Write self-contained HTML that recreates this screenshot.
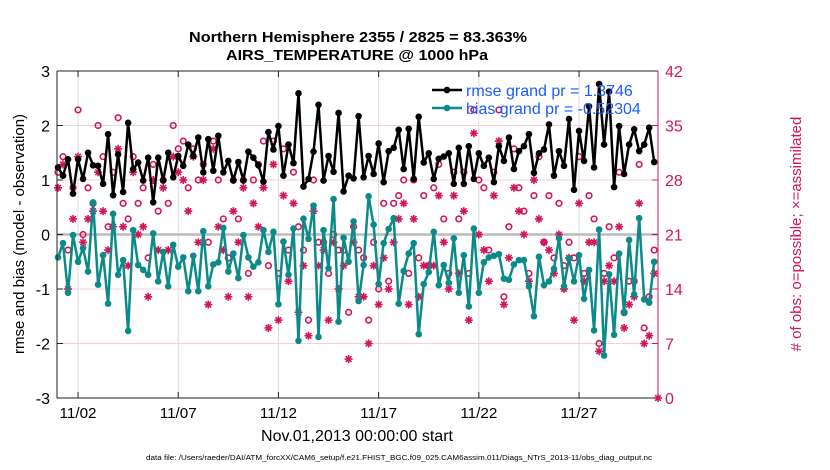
<!DOCTYPE html>
<html><head><meta charset="utf-8"><style>
html,body{margin:0;padding:0;background:#fff;}
svg{display:block;font-family:"Liberation Sans",sans-serif;}
</style></head><body>
<svg id="chart" width="830" height="470" viewBox="0 0 830 470" xmlns="http://www.w3.org/2000/svg">
<rect x="0" y="0" width="830" height="470" fill="#fff"/>
<text x="358" y="42" text-anchor="middle" font-size="15" font-weight="bold" textLength="338" lengthAdjust="spacingAndGlyphs">Northern Hemisphere 2355 / 2825 = 83.363%</text>
<text x="357" y="60" text-anchor="middle" font-size="15" font-weight="bold" textLength="262" lengthAdjust="spacingAndGlyphs">AIRS_TEMPERATURE @ 1000 hPa</text>
<g id="grid"></g>
<g id="marks"></g>
<g id="axes"></g>
<text transform="translate(24,234) rotate(-90)" text-anchor="middle" font-size="15">rmse and bias (model - observation)</text>
<text transform="translate(801,234) rotate(-90)" text-anchor="middle" font-size="15" fill="#d4145a"># of obs: o=possible; ×=assimilated</text>
<text x="357" y="441" text-anchor="middle" font-size="16" textLength="192" lengthAdjust="spacingAndGlyphs">Nov.01,2013 00:00:00 start</text>
<text x="146" y="460" font-size="7" textLength="506" lengthAdjust="spacingAndGlyphs">data file: /Users/raeder/DAI/ATM_forcXX/CAM6_setup/f.e21.FHIST_BGC.f09_025.CAM6assim.011/Diags_NTrS_2013-11/obs_diag_output.nc</text>
<g id="legend"></g>
</svg>
<script>
const xTickLabels = ["11/02","11/07","11/12","11/17","11/22","11/27"];
const xTickDays = [1,6,11,16,21,26];
const leftTicks = [-3,-2,-1,0,1,2,3];
const rightTicks = [0,7,14,21,28,35,42];
const stepDays = 0.25;
const rmse = [1.23,1.08,1.38,0.75,1.38,1.02,1.5,1.27,1.26,0.93,1.84,0.72,1.47,0.78,2.05,1.2,1.32,0.99,1.41,0.59,1.41,0.99,1.5,1.05,1.44,1.26,1.65,1.44,1.78,1.14,1.75,
1.17,1.81,1.14,1.35,0.99,1.33,0.99,1.52,1.41,1.27,0.97,1.88,1.56,1.99,1.08,1.65,1.31,2.59,0.88,1.02,1.52,2.38,0.99,1.44,1.15,2.23,0.79,1.08,1.03,2.17,
1.05,1.44,1.11,1.67,0.96,1.53,1.59,1.92,1.2,1.94,1.02,2.16,1.32,1.49,1.02,1.39,1.43,1.49,0.93,1.59,0.93,1.62,1.02,1.49,1.26,1.41,0.96,1.62,1.35,1.78,
1.2,1.53,1.62,1.84,1.13,1.49,1.56,2.02,1.08,1.53,1.26,2.12,0.82,1.9,1.35,2.35,1.23,2.76,1.65,2.62,0.87,1.99,1.11,1.65,1.93,1.53,1.65,1.96,1.33];
const bias = [-0.42,-0.16,-1.07,-0.01,-0.5,-0.25,-0.68,0.59,-0.92,-0.38,-1.27,0.38,-0.74,-0.47,-1.77,0.08,-0.56,-0.65,-0.74,0.02,-0.86,-0.32,-0.95,-0.19,-0.59,-0.42,-1.04,-0.39,-1.04,0.06,-0.95,
-0.55,-0.51,0.12,-0.68,-0.35,-0.8,-0.01,-0.42,-0.59,-0.51,0.08,-0.32,0.05,-1.28,-0.13,-0.74,0.11,-1.95,0.29,-0.08,0.53,-1.88,0.08,-0.62,0.65,-1.6,-0.06,-0.5,0.24,-1.22,
-0.56,0.7,0.18,-0.91,-0.16,0.1,0.3,-1.27,-0.67,-0.35,-0.16,-1.83,-0.91,-0.69,0.05,-0.93,-0.56,-0.89,-0.07,-1.07,-0.38,-1.32,0.11,-1.07,-0.51,-0.42,-0.39,-0.36,-0.81,-0.83,
-0.55,-0.47,-0.47,-0.95,-1.5,-0.41,-0.93,-0.86,-0.63,-0.07,-0.95,-0.44,-0.86,-0.38,-1.18,-0.65,-1.76,0.09,-2.22,-0.73,-1.84,-0.35,-1.44,-0.1,-1.1,0.3,-1.19,-1.25,-0.5];
const obsPossible = [29,31,19,27,37,21,27,25,35,31,22,29,36,25,23,31,25,27,18,30,24,28,25,35,32,33,27,32,28,30,20,
33,28,23,18,28,23,28,16,28,30,33,17,33,16,32,19,29,22,19,10,28,20,20,16,21,19,19,11,22,19,
18,10,20,14,25,15,25,26,28,16,28,18,26,17,27,30,23,16,29,23,29,16,37,28,27,19,29,37,13,22,
32,27,24,16,26,31,20,26,18,25,17,20,18,31,16,26,23,7,16,22,18,29,11,15,15,30,9,13,19];
const obsAssim = [27,30,14,23,31,20,23,24,29,24,19,22,32,22,17,29,21,22,13,28,19,27,19,31,29,28,24,31,20,28,12,
32,22,19,13,24,20,27,13,25,22,27,9,30,10,26,15,25,11,17,8,24,17,19,10,20,14,17,5,20,13,
13,7,17,12,18,14,20,23,25,12,23,13,17,17,17,26,20,14,26,16,24,10,34,21,19,15,26,33,12,18,
27,24,21,15,28,23,20,19,16,21,14,18,10,25,15,20,20,6,15,17,15,22,9,12,13,25,7,8,16];

const L=57, R=658, T=71, B=398;
const PINK="#d4145a", TEAL="#0b8a8a";
const NS="http://www.w3.org/2000/svg";
function xS(day){return 58 + day*20.04;}
function yL(v){return T + (3 - v)*(B-T)/6;}
function yR(c){return B - c*(B-T)/42;}
function mk(tag, attrs, parent){const e=document.createElementNS(NS,tag);for(const k in attrs)e.setAttribute(k,attrs[k]);parent.appendChild(e);return e;}
const grid=document.getElementById('grid'), marks=document.getElementById('marks'), axes=document.getElementById('axes'), legend=document.getElementById('legend');

xTickDays.forEach((d,i)=>{
  const x=xS(d);
  const g=mk('line',{x1:x,x2:x,y1:T,y2:B,stroke:'#dcdcdc','stroke-width':1},grid);
  
  
  const t1=mk('line',{x1:x,x2:x,y1:B,y2:B-6,stroke:'#222','stroke-width':1},axes);
  
  
  const t2=mk('line',{x1:x,x2:x,y1:T,y2:T+6,stroke:'#222','stroke-width':1},axes);
  
  
  const lb=mk('text',{x:x,y:418,'text-anchor':'middle','font-size':15,textLength:37,lengthAdjust:'spacingAndGlyphs'},axes);
  lb.textContent=xTickLabels[i];
  
  
});
leftTicks.forEach(v=>{
  const y=yL(v);
  if(v!==0 && v!==3 && v!==-3){
    const g=mk('line',{x1:L,x2:R,y1:y,y2:y,stroke:'#f2d0dc','stroke-width':1},grid);
    
    
  }
  const t=mk('line',{x1:L,x2:L+6,y1:y,y2:y,stroke:'#222'},axes);
  
  
  const lb=mk('text',{x:50,y:y+6,'text-anchor':'end','font-size':16},axes);
  lb.textContent=String(v);
  
  
});
rightTicks.forEach(c=>{
  const y=yR(c);
  const t=mk('line',{x1:R-6,x2:R,y1:y,y2:y,stroke:PINK},axes);
  
  
  const lb=mk('text',{x:665,y:y+6,'font-size':16,fill:PINK},axes);
  lb.textContent=String(c);
  
  
});
const zl=mk('line',{x1:L,x2:R,y1:yL(0),y2:yL(0),stroke:'#bbbbbb','stroke-width':2.5},grid);



function star(x,y,parent,name){
  const g=mk('g',{stroke:PINK,'stroke-width':1.6},parent);
  
  
  const r=4;
  for(let k=0;k<4;k++){const a=k*Math.PI/4;mk('line',{x1:x-r*Math.cos(a),y1:y-r*Math.sin(a),x2:x+r*Math.cos(a),y2:y+r*Math.sin(a)},g);}
}
obsPossible.forEach((c,i)=>{
  const e=mk('circle',{cx:xS(i*stepDays),cy:yR(c),r:2.8,fill:'none',stroke:PINK,'stroke-width':1.6},marks);
  
  
});
obsAssim.forEach((c,i)=>{star(xS(i*stepDays),yR(c),marks,'obs-assimilated-point');});

function series(vals,color,name){
  const pts=vals.map((v,i)=>xS(i*stepDays).toFixed(1)+','+yL(v).toFixed(1)).join(' ');
  const pl=mk('polyline',{points:pts,fill:'none',stroke:color,'stroke-width':2.5,'stroke-linejoin':'round'},marks);
  
  
  vals.forEach((v,i)=>{
    const c=mk('circle',{cx:xS(i*stepDays),cy:yL(v),r:3.3,fill:color},marks);
    
    
  });
}
series(rmse,'#000','rmse');
series(bias,TEAL,'bias');

const ax1=mk('path',{d:`M${L},${T}H${R} M${L},${T}V${B}H${R}`,fill:'none',stroke:'#222','stroke-width':1},axes);


const ax2=mk('line',{x1:R,x2:R,y1:T,y2:B,stroke:PINK,'stroke-width':1},axes);


star(R,B,axes,'axis-corner-marker');

[['rmse grand pr = 1.3746','#000',90],['bias grand pr = -0.52304',TEAL,108]].forEach(([txt,col,y])=>{
  const ln=mk('line',{x1:432,x2:462,y1:y,y2:y,stroke:col,'stroke-width':2.5},legend);
  
  
  const dt=mk('circle',{cx:447,cy:y,r:3.3,fill:col},legend);
  
  
  const t=mk('text',{x:466,y:y+6,'font-size':16,fill:'#1a5cff'},legend);
  t.textContent=txt;
  
  
});
</script>
</body></html>
